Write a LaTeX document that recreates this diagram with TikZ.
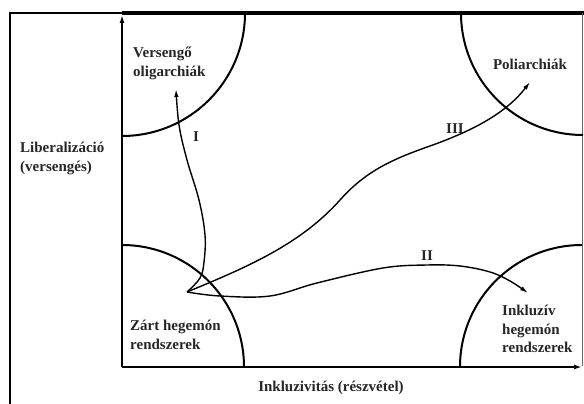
\documentclass[tikz,border=0pt]{standalone}
\usepackage{fontspec}
\setmainfont{Liberation Serif}
\usetikzlibrary{arrows.meta}
\begin{document}
\begin{tikzpicture}[x=1pt,y=-1pt,
  lab/.style={font=\bfseries\fontsize{15}{18.5}\selectfont, inner sep=0pt, align=left, text=black!85},
  axisline/.style={line width=1.6pt, -{Latex[length=8pt,width=5pt]}},
  region/.style={line width=2pt},
  route/.style={line width=1.4pt, -{Latex[length=8pt,width=4.5pt]}}]
\useasboundingbox (0,0) rectangle (584,404);
% frame
\coordinate (fbl) at (10,404);
\coordinate (ftl) at (10,13);
\coordinate (fax) at (122,13);
\coordinate (ftr) at (584,13);
\coordinate (rtop) at (582,13);
\coordinate (rbot) at (582,366);
\draw[line width=1.4pt] (fbl) -- (ftl) -- (fax);
\draw[line width=3.2pt] (fax) -- (ftr);
\draw[line width=0.8pt, black!60] (rtop) -- (rbot);
% axes
\coordinate (O) at (122,367);
\coordinate (ytop) at (122,15);
\coordinate (xend) at (582,367);
\draw[axisline] (O) -- (ytop);
\draw[axisline] (O) -- (xend);
% quarter circles
\draw[region] (245,13) arc[start angle=0, end angle=90, radius=123];
\draw[region] (461,13) arc[start angle=180, end angle=90, radius=122];
\draw[region] (122,245) arc[start angle=270, end angle=360, radius=122];
\draw[region] (460,367) arc[start angle=180, end angle=270, radius=122];
% routes
\coordinate (s) at (187,292);
\coordinate (m3a) at (340,200);
\coordinate (m3b) at (430,146);
\coordinate (eI) at (176,89);
\coordinate (eII) at (528,293);
\coordinate (eIII) at (530,82);
\draw[route] plot[smooth, tension=0.6] coordinates {(s) (200,278) (204,262) (205,235) (199,200) (187,160) (179,125) (eI)};
\draw[route] (s) .. controls (245,268) and (300,245) .. (m3a)
  .. controls (365,172) and (390,160) .. (m3b)
  .. controls (475,130) and (507,112) .. (eIII);
\draw[route] plot[smooth, tension=0.6] coordinates {(s) (220,296) (270,296) (317,283) (383,268) (427,265) (460,266) (490,272) (510,281) (eII)};
% labels
\node[lab, anchor=north west] (vo) at (133,47) {Versengő\\oligarchiák};
\node[lab, anchor=north west] (lib) at (20,142) {Liberalizáció\\(versengés)};
\node[lab, anchor=base] (pol) at (530,70) {Poliarchiák};
\node[lab, anchor=north west] (zh) at (130,320) {Zárt hegemón\\rendszerek};
\node[lab, anchor=north west] (ih) at (502,305) {Inkluzív\\hegemón\\rendszerek};
\node[lab, anchor=base] (inc) at (331,391) {Inkluzivitás (részvétel)};
\node[lab, anchor=center] (rI) at (196,137) {I};
\node[lab, anchor=center] (rII) at (427,256) {II};
\node[lab, anchor=center] (rIII) at (455,129) {III};
\end{tikzpicture}
\end{document}
